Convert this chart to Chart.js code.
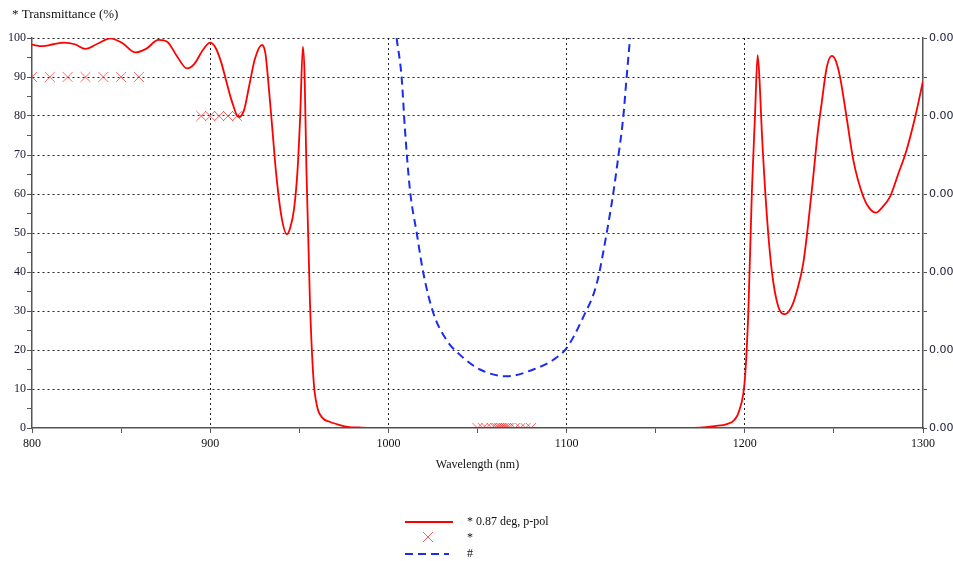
<!DOCTYPE html>
<html>
<head>
<meta charset="utf-8">
<script src="https://cdn.jsdelivr.net/npm/chart.js@4.4.1/dist/chart.umd.min.js"></script>
<style>
    body { margin: 0; background: #fff; }
    #caja { position: relative; width: 953px; height: 561px; }
    #leyenda { position: absolute; left: 403px; top: 512px; font: 12px "Liberation Serif", serif; color: #111; }
    .fila { position: relative; height: 16px; }
    .fila svg { position: absolute; left: 0; top: 0; }
    .fila span { position: absolute; left: 64px; top: 2px; white-space: nowrap; }
</style>
</head>
<body>
<div id="caja">
    <canvas id="myChart" width="953" height="561"></canvas>
    <div id="leyenda">
        <div class="fila">
            <svg width="52" height="16"><line x1="2" y1="10" x2="50" y2="10" stroke="#ff0000" stroke-width="2"/></svg>
            <span>* 0.87 deg, p-pol</span>
        </div>
        <div class="fila">
            <svg width="52" height="16"><line x1="20" y1="4" x2="30" y2="14" stroke="rgba(255,40,40,0.75)" stroke-width="1"/><line x1="30" y1="4" x2="20" y2="14" stroke="rgba(255,40,40,0.75)" stroke-width="1"/></svg>
            <span>*</span>
        </div>
        <div class="fila">
            <svg width="52" height="16"><line x1="2" y1="10" x2="46" y2="10" stroke="rgb(25,45,235)" stroke-width="2" stroke-dasharray="8,5"/></svg>
            <span>#</span>
        </div>
    </div>
</div>
<script>
// curva de transmitancia (nm, %)
const redX = [800, 806, 812, 818, 824, 830, 837, 844, 851, 858, 864, 871, 876, 881, 887, 891, 896, 900,
    903, 906, 909, 912, 916, 919, 922, 925, 929, 931, 933, 935, 937, 940, 943, 945, 947, 949, 950.5, 952,
    953, 954, 956, 958, 960, 963, 967, 971, 977, 985, 1000, 1050, 1100, 1150, 1170, 1175, 1183, 1190,
    1194, 1197, 1200, 1202, 1204, 1205.7, 1207.2, 1208.3, 1209.5, 1212.3, 1215.1, 1218.8, 1222.6, 1226.3,
    1229.5, 1232.8, 1235.5, 1238.4, 1241, 1243.1, 1246, 1248.8, 1251, 1253.4, 1257, 1260.9, 1266.5, 1270,
    1273.6, 1277, 1281.5, 1286, 1290.8, 1296, 1300];
const redY = [98.3, 97.9, 98.4, 98.8, 98.4, 97.2, 98.6, 99.9, 98.6, 96.3, 97.2, 99.5, 99.0, 95.6, 92.2, 93.3, 97.0, 98.8,
    97.5, 94.0, 89.0, 84.0, 79.7, 81.5, 88.0, 94.5, 98.2, 96.0, 86.7, 76.0, 65.3, 54.2, 49.7, 51.5, 56.0, 66.0, 80.0, 97.8,
    90.0, 66.2, 32.0, 12.3, 5.5, 2.6, 1.6, 1.0, 0.3, 0.1, 0, 0, 0, 0, 0.05, 0.1, 0.5, 1.0,
    2.0, 4.6, 12.3, 30.0, 61.0, 79.8, 95.6, 89.0, 76.4, 55.0, 40.5, 31.1, 29.2, 31.1,
    35.5, 42.2, 52.0, 64.4, 76.0, 83.2, 92.5, 95.4, 94.2, 90.1, 80.0, 68.7, 59.3, 56.3,
    55.2, 56.5, 59.3, 65.0, 71.3, 80.5, 89.0];

// objetivos (*)
const targetX = [800, 810, 820, 830, 840, 850, 860, 895, 900, 905, 910, 915,
    1050, 1053, 1055, 1058, 1060, 1061, 1062, 1063, 1064, 1065, 1066, 1067, 1068, 1071, 1074, 1077, 1080];
const targetY = [90, 90, 90, 90, 90, 90, 90, 80, 80, 80, 80, 80,
    0, 0, 0, 0, 0, 0, 0, 0, 0, 0, 0, 0, 0, 0, 0, 0, 0];

// curva # (eje derecho)
const blueX = [1004.6, 1007.4, 1009.3, 1012.1, 1015.9, 1019.6, 1025.2, 1032.7, 1040.2, 1051.4, 1066.4,
    1081.3, 1092.6, 1100, 1109.4, 1116.9, 1122.5, 1126.2, 1129, 1131.8, 1133.7, 1135.6];
const blueY = [0.00400, 0.00360, 0.00306, 0.00244, 0.00200, 0.00159, 0.00118, 0.00090, 0.00075, 0.00060, 0.00053,
    0.00060, 0.00070, 0.00082, 0.00114, 0.00148, 0.00200, 0.00241, 0.00278, 0.00319, 0.00360, 0.00400];

function puntos(xs, ys) {
    return xs.map((x, i) => ({ x: x, y: ys[i] }));
}

const serif = "'Liberation Serif', 'Times New Roman', serif";
const punteado = [2, 3];

// texto de arriba a la izquierda
const tituloPlugin = {
    id: 'tituloPlugin',
    afterDraw(chart) {
        const ctx = chart.ctx;
        ctx.save();
        ctx.font = "13px " + serif;
        ctx.fillStyle = '#111';
        ctx.textBaseline = 'middle';
        ctx.fillText('* Transmittance (%)', 12, 15);
        ctx.restore();
    }
};

const ctx = document.getElementById('myChart');

new Chart(ctx, {
    type: 'line',
    data: {
        datasets: [{
            label: '* 0.87 deg, p-pol',
            data: puntos(redX, redY),
            borderColor: '#ff0000',
            borderWidth: 1.8,
            pointRadius: 0,
            cubicInterpolationMode: 'monotone',
            yAxisID: 'y'
        }, {
            label: '*',
            data: puntos(targetX, targetY),
            showLine: false,
            pointStyle: 'crossRot',
            pointRadius: 7,
            pointBorderWidth: 1,
            borderColor: 'rgba(255,40,40,0.7)',
            backgroundColor: 'rgba(255,40,40,0.7)',
            yAxisID: 'y'
        }, {
            label: '#',
            data: puntos(blueX, blueY),
            borderColor: 'rgb(25,45,235)',
            borderWidth: 2,
            borderDash: [8, 5],
            pointRadius: 0,
            cubicInterpolationMode: 'monotone',
            yAxisID: 'y2'
        }]
    },
    options: {
        responsive: false,
        animation: false,
        layout: { padding: { top: 38, bottom: 85, left: 0, right: 0 } },
        plugins: {
            legend: { display: false },
            tooltip: { enabled: false }
        },
        scales: {
            x: {
                type: 'linear',
                min: 800,
                max: 1300,
                afterFit: (scale) => { scale.height = 48; },
                ticks: {
                    stepSize: 50,
                    autoSkip: false,
                    maxRotation: 0,
                    padding: 4,
                    color: '#111',
                    font: { family: serif, size: 12 },
                    callback: (v) => v % 100 === 0 ? v : ''
                },
                grid: {
                    color: (c) => (c.tick && c.tick.value % 100 === 0 && c.tick.value > 800 && c.tick.value < 1300) ? '#222' : 'transparent',
                    tickColor: '#555',
                    tickLength: 5
                },
                border: { color: '#555', width: 1.5, dash: punteado },
                title: {
                    display: true,
                    text: 'Wavelength (nm)',
                    color: '#111',
                    font: { family: serif, size: 12 },
                    padding: { top: 2, bottom: 4 }
                }
            },
            y: {
                position: 'left',
                min: 0,
                max: 100,
                afterFit: (scale) => { scale.width = 32; },
                ticks: {
                    stepSize: 5,
                    autoSkip: false,
                    padding: 1,
                    color: '#1a1a30',
                    font: { family: serif, size: 12 },
                    callback: (v) => v % 10 === 0 ? v : ''
                },
                grid: {
                    color: (c) => (c.tick && c.tick.value % 10 === 0 && c.tick.value > 0) ? '#222' : 'transparent',
                    tickColor: '#555',
                    tickLength: 5
                },
                border: { color: '#555', width: 1.5, dash: punteado }
            },
            y2: {
                position: 'right',
                min: 0,
                max: 0.004,
                afterFit: (scale) => { scale.width = 30; },
                ticks: {
                    stepSize: 0.0004,
                    autoSkip: false,
                    padding: 2,
                    color: '#22223a',
                    font: { family: "'DejaVu Sans', sans-serif", size: 11 },
                    callback: (v, i) => i % 2 === 0 ? v.toFixed(2) : ''
                },
                grid: {
                    drawOnChartArea: false,
                    tickColor: '#555',
                    tickLength: 4
                },
                border: { color: '#555', width: 1.5 }
            }
        }
    },
    plugins: [tituloPlugin]
});
</script>
</body>
</html>
